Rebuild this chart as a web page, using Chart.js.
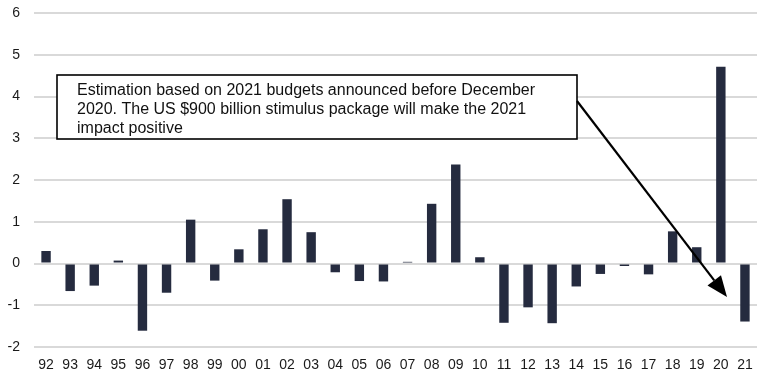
<!DOCTYPE html>
<html>
<head>
<meta charset="utf-8">
<script src="https://cdn.jsdelivr.net/npm/chart.js@4"></script>
<style>
  html, body { margin: 0; padding: 0; background: #ffffff; }
  #wrap { width: 763px; height: 376px; }
</style>
</head>
<body>
<div id="wrap"><canvas id="impactChart" width="763" height="376"></canvas></div>
<script>
// Years (two-digit) and yearly impact values
const years = [
  "92", "93", "94", "95", "96", "97", "98", "99", "00", "01",
  "02", "03", "04", "05", "06", "07", "08", "09", "10", "11",
  "12", "13", "14", "15", "16", "17", "18", "19", "20", "21",
];
const impact = [
  0.30, -0.66, -0.53, 0.07, -1.61, -0.70, 1.05, -0.41, 0.34, 0.82,
  1.54, 0.75, -0.21, -0.42, -0.43, 0.04, 1.43, 2.37, 0.15, -1.42,
  -1.05, -1.43, -0.55, -0.25, -0.06, -0.26, 0.77, 0.39, 4.71, -1.39,
];
const yTicks = [-2, -1, 0, 1, 2, 3, 4, 5, 6];

const noteLines = [
  "Estimation based on 2021 budgets announced before December",
  "2020. The US $900 billion stimulus package will make the 2021",
  "impact positive",
];

const FONT = "'Liberation Sans', Arial, sans-serif";

// Callout box with an arrow pointing at the 2021 bar
const calloutPlugin = {
  id: "callout",
  afterDatasetsDraw(chart) {
    const ctx = chart.ctx;
    const box = { x: 57, y: 75, w: 520, h: 64 };
    ctx.save();
    ctx.fillStyle = "#ffffff";
    ctx.fillRect(box.x, box.y, box.w, box.h);
    ctx.strokeStyle = "#000000";
    ctx.lineWidth = 1.6;
    ctx.strokeRect(box.x, box.y, box.w, box.h);

    ctx.fillStyle = "#111111";
    ctx.font = "16px " + FONT;
    ctx.textBaseline = "middle";
    noteLines.forEach((line, i) => {
      ctx.fillText(line, box.x + 20, box.y + 16 + i * 19);
    });

    // arrow
    const x0 = box.x + box.w, y0 = 101;
    const x1 = 727, y1 = 297;
    const ang = Math.atan2(y1 - y0, x1 - x0);
    const headLen = 21, headW = 8.5;
    const bx = x1 - headLen * Math.cos(ang);
    const by = y1 - headLen * Math.sin(ang);
    ctx.strokeStyle = "#000000";
    ctx.lineWidth = 2.2;
    ctx.beginPath();
    ctx.moveTo(x0, y0);
    ctx.lineTo(bx, by);
    ctx.stroke();
    ctx.fillStyle = "#000000";
    ctx.beginPath();
    ctx.moveTo(x1, y1);
    ctx.lineTo(bx + headW * Math.sin(ang), by - headW * Math.cos(ang));
    ctx.lineTo(bx - headW * Math.sin(ang), by + headW * Math.cos(ang));
    ctx.closePath();
    ctx.fill();
    ctx.restore();
  },
};

const ctx = document.getElementById("impactChart").getContext("2d");
window.impactChart = new Chart(ctx, {
  type: "bar",
  data: {
    labels: years,
    datasets: [
      {
        data: impact,
        backgroundColor: "#252b3f",
        borderWidth: 0,
        categoryPercentage: 1,
        barPercentage: 0.39,
      },
    ],
  },
  options: {
    responsive: false,
    animation: false,
    layout: {
      padding: { top: 13, right: 6, bottom: 0, left: 0 },
    },
    scales: {
      x: {
        grid: { display: false, drawTicks: false },
        border: { display: false },
        ticks: {
          color: "#1a1a1a",
          padding: 10,
          maxRotation: 0,
          autoSkip: false,
          font: { size: 14, family: FONT },
        },
        afterFit(scale) {
          scale.height = 29;
        },
      },
      y: {
        min: -2,
        max: 6,
        afterBuildTicks(scale) {
          scale.ticks = yTicks.map((v) => ({ value: v }));
        },
        grid: {
          color: "#d9d9d9",
          lineWidth: 2,
          drawTicks: false,
        },
        border: { display: false },
        ticks: {
          color: "#1a1a1a",
          padding: 14,
          font: { size: 14, family: FONT },
        },
        afterFit(scale) {
          scale.width = 34;
          scale.paddingTop = 0;
          scale.paddingBottom = 0;
        },
      },
    },
    plugins: {
      legend: { display: false },
      tooltip: { enabled: false },
      title: { display: false },
    },
  },
  plugins: [calloutPlugin],
});
</script>
</body>
</html>
